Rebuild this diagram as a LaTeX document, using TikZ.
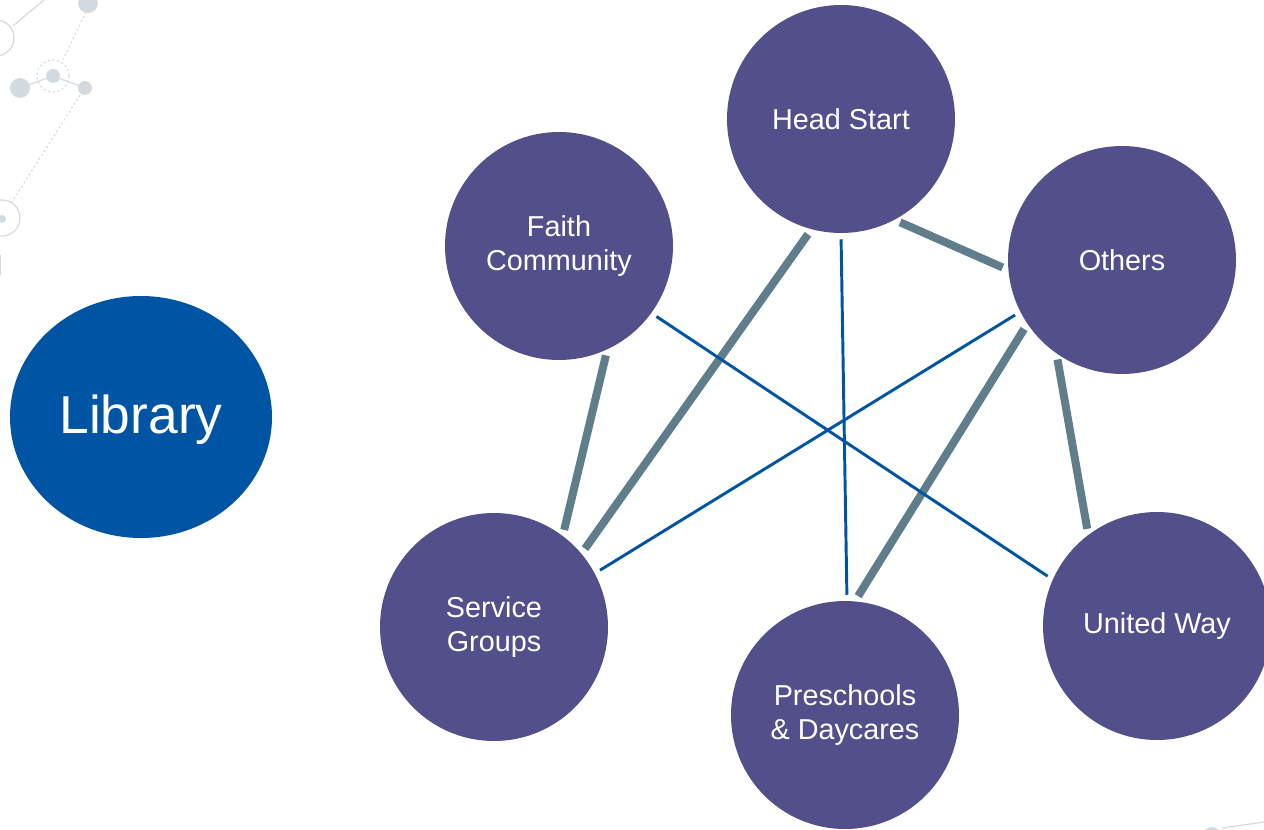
\documentclass[tikz,border=0pt]{standalone}
\usepackage{fontspec}
\setmainfont{Liberation Sans}
\usetikzlibrary{shapes.geometric}
\definecolor{hubblue}{HTML}{0054A4}
\definecolor{partner}{HTML}{524F8A}
\definecolor{strong}{HTML}{5F7D8A}
\definecolor{deco}{HTML}{D3DADF}
\begin{document}
\begin{tikzpicture}[x=0.75pt,y=-0.75pt,
  partnernode/.style={circle,fill=partner,draw=none,minimum size=171pt,inner sep=0pt,
    text=white,align=center,font=\fontsize{21.6}{25.5}\selectfont},
  strongtie/.style={draw=strong,line width=6pt,shorten <=4.5pt,shorten >=4.5pt},
  weaktie/.style={draw=hubblue,line width=2.2pt,shorten <=4.5pt,shorten >=4.5pt},
  decoline/.style={draw=deco,line width=0.9pt},
  decodots/.style={draw=deco,line width=0.9pt,dash pattern=on 1.5pt off 2pt}]
\useasboundingbox (0,0) rectangle (1264,830);
\begin{scope}
\clip (0,0) rectangle (1264,830);
% network ornament, upper left
\draw[decoline] (-4,38) circle[radius=18];
\draw[decoline] (13,26) -- (44,0);
\fill[deco] (88,3) circle[radius=10];
\draw[decodots] (86,12) -- (62,62);
\draw[decodots] (53,76) circle[radius=16];
\fill[deco] (53,76) circle[radius=7];
\fill[deco] (20,88) circle[radius=10];
\fill[deco] (85,88) circle[radius=7];
\draw[decoline] (20,88) -- (53,76) -- (85,88);
\draw[decodots] (80,95) -- (12,202);
\draw[decoline] (2,218) circle[radius=18];
\fill[deco] (2,219) circle[radius=4];
\draw[decoline] (0,255) -- (0,275);
% ornament, lower right
\fill[deco] (1212,836) circle[radius=9];
\draw[decoline] (1222,828) -- (1264,822);
\end{scope}

% hub
\node[ellipse,fill=hubblue,minimum width=196.5pt,minimum height=181.5pt,inner sep=0pt] (lib) at (141,417) {};
\node[text=white,font=\fontsize{40}{44}\selectfont] (libtext) at (141,420) {Library};

% partners
\node[partnernode] (head) at (841,119) {Head Start};
\node[partnernode] (faith) at (559,246) {Faith\\Community};
\node[partnernode] (others) at (1122,260) {Others};
\node[partnernode] (service) at (494,627) {Service\\Groups};
\node[partnernode] (pre) at (845,715) {Preschools\\\& Daycares};
\begin{scope}
\clip (0,0) rectangle (1264,830);
\node[partnernode] (uw) at (1157,626) {United Way};
\end{scope}

% ties between partners
\draw[strongtie] (faith.295) -- (service.53);
\draw[strongtie] (head.255.5) -- (service.40.6);
\draw[strongtie] (head.298) -- (others.185.8);
\draw[strongtie] (others.214.6) -- (pre.85);
\draw[strongtie] (others.235) -- (uw.127.5);
\draw[weaktie] (faith.324.6) -- (uw.156.2);
\draw[weaktie] (head.270.5) -- (pre.89.5);
\draw[weaktie] (others.207.6) -- (service.28.3);
\end{tikzpicture}
\end{document}
